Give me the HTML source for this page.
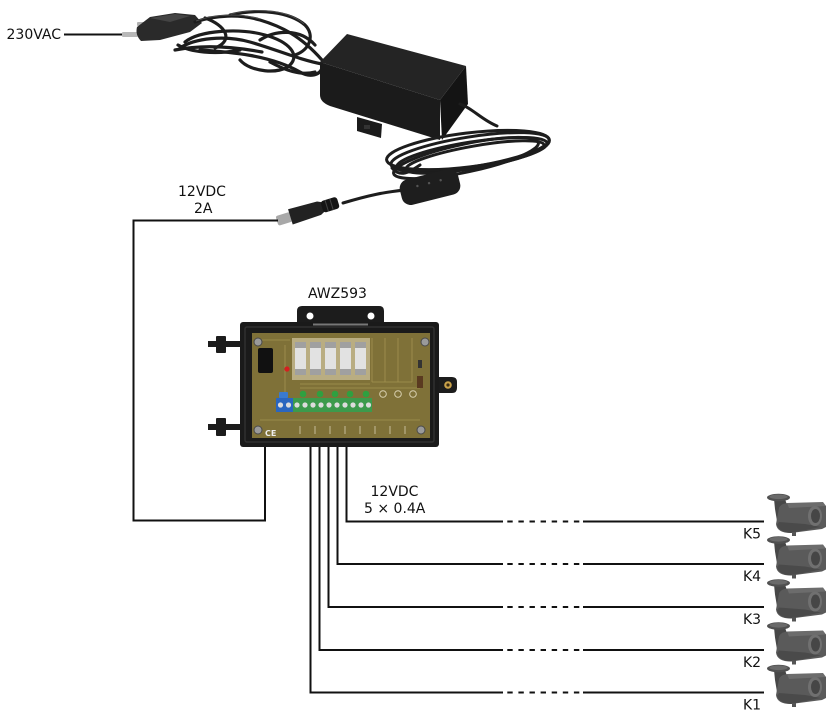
<!DOCTYPE html>
<html><head><meta charset="utf-8"><style>
html,body{margin:0;padding:0;background:#fff;}
svg{display:block;}
text{font-family:"DejaVu Sans","Liberation Sans",sans-serif;font-size:14px;fill:#111;}
</style></head><body>
<svg width="836" height="724" viewBox="0 0 836 724" xmlns="http://www.w3.org/2000/svg">
<defs>
<g id="cam">
  <path d="M9,5 L20,5 L23,14 L22,26 L12,27 L10,15 Z" fill="#474747"/>
  <ellipse cx="13.5" cy="3.5" rx="11.5" ry="3.8" fill="#505050"/>
  <ellipse cx="13.5" cy="2.8" rx="9" ry="2.3" fill="#6a6a6a"/>
  <path d="M14,14 Q16,9 24,9 L57,9 L61,12 L61,33 L57,35 L26,39 Q12,39 11,30 Z" fill="#5a5a5a"/>
  <path d="M22,9 L58,8 L61,12 L24,14 Z" fill="#6c6c6c"/>
  <path d="M14,28 L40,30 L56,33 L26,39 Q14,38 12,31 Z" fill="#4a4a4a"/>
  <ellipse cx="50" cy="22" rx="7" ry="10" fill="#707070"/>
  <ellipse cx="50.5" cy="22" rx="4.5" ry="7" fill="#464646"/>
  <rect x="27" y="38" width="4" height="4" fill="#555"/>
</g>
</defs>

<!-- ===== Power adapter ===== -->
<text x="6.5" y="39">230VAC</text>
<line x1="64" y1="34.5" x2="124" y2="34.5" stroke="#111" stroke-width="2"/>
<rect x="122" y="32" width="16" height="5" rx="1" fill="#b8b8b8"/>
<rect x="137" y="22" width="10" height="4" rx="1" fill="#b0b0b0"/>
<path d="M137,27 L150,17 L175,13 L195,15 L202,23 L190,32 L160,40 L141,41 Q135,35 137,27 Z" fill="#2a2a2a"/>
<path d="M150,18 L175,14 L190,16 L170,22 Z" fill="#444"/>
<g fill="none" stroke="#1d1d1d" stroke-width="3.2" stroke-linecap="round">
  <path d="M195,22 C215,15 240,14 260,20 S300,35 322,60"/>
  <path d="M180,48 C195,38 225,35 250,42 S300,60 322,64"/>
  <path d="M185,42 C200,30 240,28 265,35 C290,42 300,55 290,65 C280,75 250,72 240,60"/>
  <path d="M230,15 C260,8 290,12 305,25 C315,35 310,50 295,55"/>
  <path d="M200,50 C230,52 270,55 300,72 C310,78 320,75 322,68"/>
  <path d="M260,40 C275,30 300,28 315,45"/>
  <path d="M178,45 C190,52 215,55 240,50"/>
  <path d="M205,18 C225,25 235,40 215,48"/>
  <path d="M270,62 C285,70 300,76 315,72"/>
  <path d="M175,50 C200,45 230,46 262,52"/>
</g>
<g fill="none" stroke="#555" stroke-width="0.8">
  <path d="M196,21 C215,14 240,13 260,19"/>
  <path d="M231,14 C260,7 290,11 304,24"/>
</g>
<!-- adapter box -->
<path d="M320,62 L347,34 L466,66 L440,100 Z" fill="#242424"/>
<path d="M320,62 L440,100 L440,140 L330,106 Q320,102 320,95 Z" fill="#1b1b1b"/>
<path d="M440,100 L466,66 L468,104 L442,140 Z" fill="#141414"/>
<path d="M357,117 L382,124 L381,138 L357,131 Z" fill="#1b1b1b"/>
<rect x="364" y="125" width="6" height="4" fill="#333"/>
<!-- cable out & coil -->
<g fill="none" stroke="#1d1d1d" stroke-width="3" stroke-linecap="round">
  <path d="M460,104 C472,108 482,120 497,126"/>
  <ellipse cx="470" cy="152" rx="80" ry="15" transform="rotate(-9 470 152)"/>
  <ellipse cx="472" cy="155" rx="76" ry="13" transform="rotate(-9 472 155)"/>
  <ellipse cx="468" cy="150" rx="82" ry="17" transform="rotate(-7 468 150)"/>
  <ellipse cx="475" cy="157" rx="70" ry="11" transform="rotate(-10 475 157)"/>
  <ellipse cx="466" cy="158" rx="74" ry="14" transform="rotate(-12 466 158)"/>
  <path d="M392,168 C400,178 410,172 420,165"/>
  <path d="M405,190 C385,192 370,195 343,203"/>
</g>
<g transform="rotate(-14 430 187)">
  <rect x="400" y="174" width="60" height="26" rx="9" fill="#1e1e1e"/>
  <circle cx="418" cy="183" r="1.2" fill="#555"/>
  <circle cx="430" cy="183" r="1.2" fill="#555"/>
  <circle cx="442" cy="183" r="1.2" fill="#555"/>
</g>
<!-- DC plug -->
<g transform="translate(277,221) rotate(-17)">
  <rect x="0" y="-5" width="15" height="10" rx="2" fill="#a8a8a8"/>
  <path d="M14,-8 L44,-7 L48,-5 L48,5 L44,7 L14,8 Z" fill="#222"/>
  <rect x="47" y="-6" width="17" height="12" rx="3" fill="#151515"/>
  <line x1="52" y1="-6" x2="52" y2="6" stroke="#444" stroke-width="1"/>
  <line x1="57" y1="-6" x2="57" y2="6" stroke="#444" stroke-width="1"/>
</g>

<text x="178" y="196">12VDC</text>
<text x="194" y="213">2A</text>
<polyline points="278,220.5 133.5,220.5 133.5,520.5 265,520.5 265,372" fill="none" stroke="#111" stroke-width="2"/>

<!-- ===== AWZ593 ===== -->
<text x="308" y="298">AWZ593</text>
<path d="M297,323 L297,311 Q297,306 302,306 L379,306 Q384,306 384,311 L384,323 Z" fill="#1c1c1c"/>
<circle cx="310" cy="316" r="3.5" fill="#fff"/>
<circle cx="371" cy="316" r="3.5" fill="#fff"/>
<path d="M437,377 L452,377 Q457,377 457,382 L457,388 Q457,393 452,393 L437,393 Z" fill="#1c1c1c"/>
<circle cx="448" cy="385" r="3.8" fill="#c9a24a"/>
<circle cx="448" cy="385" r="1.6" fill="#3a2a10"/>
<rect x="208" y="341" width="34" height="6" fill="#1c1c1c"/>
<rect x="216" y="336" width="10" height="17" rx="1" fill="#1c1c1c"/>
<rect x="208" y="424" width="34" height="6" fill="#1c1c1c"/>
<rect x="216" y="418" width="10" height="18" rx="1" fill="#1c1c1c"/>
<rect x="240" y="322" width="199" height="125" rx="3" fill="#1a1a1a"/>
<rect x="245" y="327" width="189" height="115" rx="2" fill="none" stroke="#303030" stroke-width="1.5"/>
<rect x="313" y="323.5" width="55" height="2" fill="#777"/>
<rect x="252" y="333" width="178" height="105" fill="#7f7138"/>
<g stroke="#a39250" stroke-width="0.8" fill="none">
  <path d="M262,340 L290,340 M285,345 L285,395 M300,384 L370,384 M300,388 L420,388 M372,338 L372,382 M385,338 L385,382 M398,338 L398,382 M412,338 L412,382 M372,382 L412,382 M260,420 L420,420"/>
</g>
<g fill="#9a9a9a" stroke="#4a4a4a" stroke-width="1">
  <circle cx="258" cy="342" r="4"/><circle cx="425" cy="342" r="4"/>
  <circle cx="258" cy="430" r="4"/><circle cx="421" cy="430" r="4"/>
</g>
<text x="265" y="436" style="font-size:8px;font-weight:bold;fill:#eee">CE</text>
<rect x="292" y="338" width="78" height="42" fill="#b9ad82"/>
<g fill="#e2e2e2">
  <rect x="295" y="342" width="11" height="33"/>
  <rect x="310" y="342" width="11" height="33"/>
  <rect x="325" y="342" width="11" height="33"/>
  <rect x="340" y="342" width="11" height="33"/>
  <rect x="355" y="342" width="11" height="33"/>
</g>
<g fill="#a0a0a0">
  <rect x="295" y="342" width="11" height="6"/><rect x="295" y="369" width="11" height="6"/>
  <rect x="310" y="342" width="11" height="6"/><rect x="310" y="369" width="11" height="6"/>
  <rect x="325" y="342" width="11" height="6"/><rect x="325" y="369" width="11" height="6"/>
  <rect x="340" y="342" width="11" height="6"/><rect x="340" y="369" width="11" height="6"/>
  <rect x="355" y="342" width="11" height="6"/><rect x="355" y="369" width="11" height="6"/>
</g>
<rect x="258" y="348" width="15" height="25" rx="2" fill="#111"/>
<circle cx="287" cy="369" r="2.6" fill="#d42020"/>
<g fill="#2fa040">
  <circle cx="303" cy="394" r="3.3"/><circle cx="320" cy="394" r="3.3"/><circle cx="335" cy="394" r="3.3"/>
  <circle cx="350" cy="394" r="3.3"/><circle cx="366" cy="394" r="3.3"/>
</g>
<g fill="none" stroke="#d8d0b0" stroke-width="1">
  <circle cx="383" cy="394" r="3.3"/><circle cx="398" cy="394" r="3.3"/><circle cx="413" cy="394" r="3.3"/>
</g>
<rect x="276" y="398" width="17" height="14" fill="#2a66bf"/>
<rect x="279" y="392" width="9" height="6" rx="1" fill="#3a7ad0"/>
<rect x="293" y="398" width="79" height="14" fill="#3c9a4c"/>
<g fill="#dcdcdc">
  <circle cx="280.5" cy="405" r="2.6"/><circle cx="288.5" cy="405" r="2.6"/>
  <circle cx="297" cy="405" r="2.6"/><circle cx="305" cy="405" r="2.6"/><circle cx="313" cy="405" r="2.6"/>
  <circle cx="321" cy="405" r="2.6"/><circle cx="329" cy="405" r="2.6"/><circle cx="337" cy="405" r="2.6"/>
  <circle cx="345" cy="405" r="2.6"/><circle cx="353" cy="405" r="2.6"/><circle cx="361" cy="405" r="2.6"/>
  <circle cx="368.5" cy="405" r="2.6"/>
</g>
<g stroke="#d8d0b0" stroke-width="0.8">
  <line x1="300" y1="426" x2="300" y2="434"/><line x1="315" y1="426" x2="315" y2="434"/>
  <line x1="330" y1="426" x2="330" y2="434"/><line x1="345" y1="426" x2="345" y2="434"/>
  <line x1="360" y1="426" x2="360" y2="434"/><line x1="375" y1="426" x2="375" y2="434"/>
  <line x1="390" y1="426" x2="390" y2="434"/><line x1="405" y1="426" x2="405" y2="434"/>
</g>
<rect x="418" y="360" width="4" height="8" fill="#333"/>
<rect x="417" y="376" width="6" height="12" fill="#5a3a20"/>

<!-- ===== Outputs ===== -->
<text x="370.5" y="496">12VDC</text>
<text x="364" y="513">5 × 0.4A</text>
<g fill="none" stroke="#111" stroke-width="2">
  <polyline points="346.5,447 346.5,521.5 503,521.5"/>
  <polyline points="337.5,447 337.5,564 503,564"/>
  <polyline points="328.5,447 328.5,607 503,607"/>
  <polyline points="319.5,447 319.5,650 503,650"/>
  <polyline points="310.5,447 310.5,692.5 503,692.5"/>
  <line x1="583" y1="521.5" x2="764" y2="521.5"/>
  <line x1="583" y1="564" x2="764" y2="564"/>
  <line x1="583" y1="607" x2="764" y2="607"/>
  <line x1="583" y1="650" x2="764" y2="650"/>
  <line x1="583" y1="692.5" x2="764" y2="692.5"/>
</g>
<g fill="none" stroke="#111" stroke-width="2" stroke-dasharray="5.4 5.7">
  <line x1="507.3" y1="521.5" x2="580" y2="521.5"/>
  <line x1="507.3" y1="564" x2="580" y2="564"/>
  <line x1="507.3" y1="607" x2="580" y2="607"/>
  <line x1="507.3" y1="650" x2="580" y2="650"/>
  <line x1="507.3" y1="692.5" x2="580" y2="692.5"/>
</g>
<text x="743" y="538.5">K5</text>
<text x="743" y="581">K4</text>
<text x="743" y="624">K3</text>
<text x="743" y="667">K2</text>
<text x="743" y="709.5">K1</text>
<use href="#cam" x="765" y="494"/>
<use href="#cam" x="765" y="536.5"/>
<use href="#cam" x="765" y="579.5"/>
<use href="#cam" x="765" y="622.5"/>
<use href="#cam" x="765" y="665"/>
</svg>
</body></html>
